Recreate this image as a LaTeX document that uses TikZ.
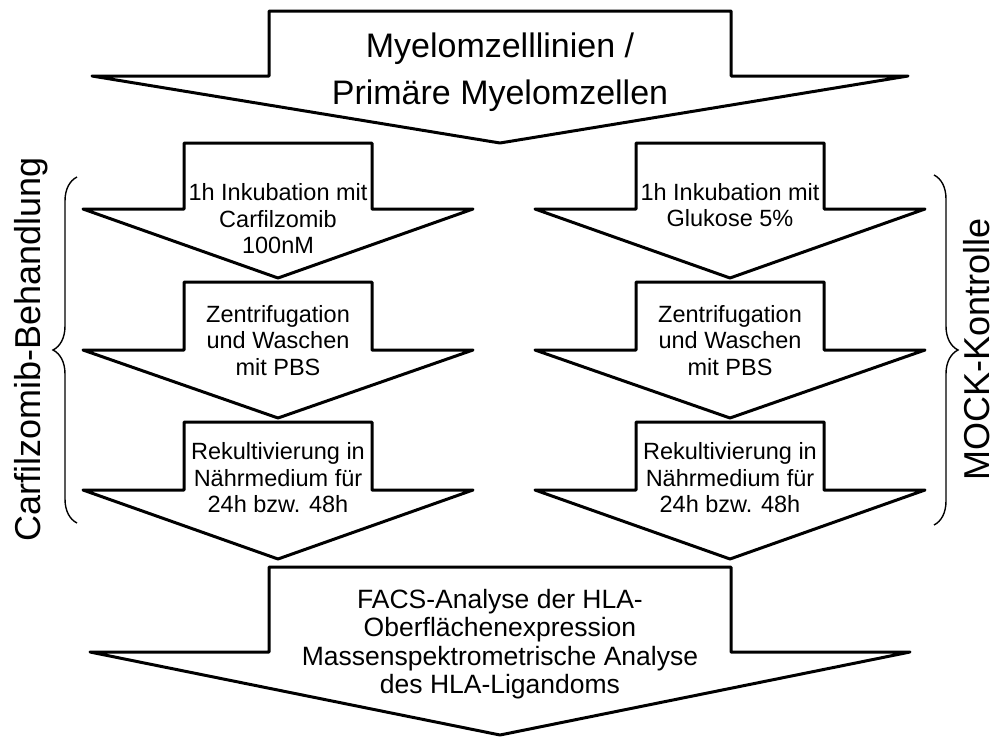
\documentclass[tikz,border=0pt]{standalone}
\usepackage{fontspec}
\setmainfont{Liberation Sans}
\usetikzlibrary{decorations.pathreplacing}

% block arrow pointing down: centre x, shaft half width, head half width,
% top y, shoulder y, tip y
\newcommand{\downblock}[6]{%
  \draw[flow] (#1-#2,#4) -- (#1+#2,#4) -- (#1+#2,#5) -- (#1+#3,#5)
    -- (#1,#6) -- (#1-#3,#5) -- (#1-#2,#5) -- cycle;}

\begin{document}
\begin{tikzpicture}[x=1pt,y=-1pt,
  flow/.style={draw=black, line width=3pt, line join=round, fill=white},
  steptext/.style={align=center, inner sep=0pt, font=\fontsize{23.5}{26.5}\selectfont},
  bigtext/.style={align=center, inner sep=0pt, font=\fontsize{34}{47}\selectfont},
  endtext/.style={align=center, inner sep=0pt, font=\fontsize{26.5}{28.5}\selectfont},
  sidelabel/.style={rotate=90, anchor=base, inner sep=0pt, font=\fontsize{36}{42}\selectfont},
  bracket/.style={decorate, decoration={brace, amplitude=24pt}, line width=1.4pt}
]
\useasboundingbox (0,0) rectangle (997,737);

% source
\downblock{500}{231}{408}{11}{76}{143}
% treatment column
\downblock{278}{94}{195}{143}{209}{278}
\downblock{278}{94}{195}{282}{350}{418}
\downblock{278}{94}{195}{422}{490}{559}
% control column
\downblock{730}{94}{195}{143}{209}{278}
\downblock{730}{94}{195}{282}{350}{418}
\downblock{730}{94}{195}{422}{490}{559}
% analysis
\downblock{500}{231}{410}{567}{652}{735}

\node[bigtext] (src) at (500,72) {Myelomzelllinien /\\Primäre Myelomzellen};

\node[steptext] (l1) at (278,219) {1h Inkubation mit\\Carfilzomib\\100nM};
\node[steptext] (l2) at (278,340.4) {Zentrifugation\\und Waschen\\mit PBS};
\node[steptext] (l3) at (278,478) {Rekultivierung in\\Nährmedium für\\24h bzw. 48h};

\node[steptext] (r1) at (730,205) {1h Inkubation mit\\Glukose 5\%};
\node[steptext] (r2) at (730,340.4) {Zentrifugation\\und Waschen\\mit PBS};
\node[steptext] (r3) at (730,478) {Rekultivierung in\\Nährmedium für\\24h bzw. 48h};

\node[endtext] (sink) at (500,644) {FACS-Analyse der HLA-\\Oberflächenexpression\\Massenspektrometrische Analyse\\des HLA-Ligandoms};

% group braces and labels
\draw[bracket] (77,523) -- (77,177);
\draw[bracket] (934,175) -- (934,525);
\node[sidelabel] (carf) at (41,349) {Carfilzomib-Behandlung};
\node[sidelabel] (mock) at (989,349) {MOCK-Kontrolle};
\end{tikzpicture}
\end{document}
